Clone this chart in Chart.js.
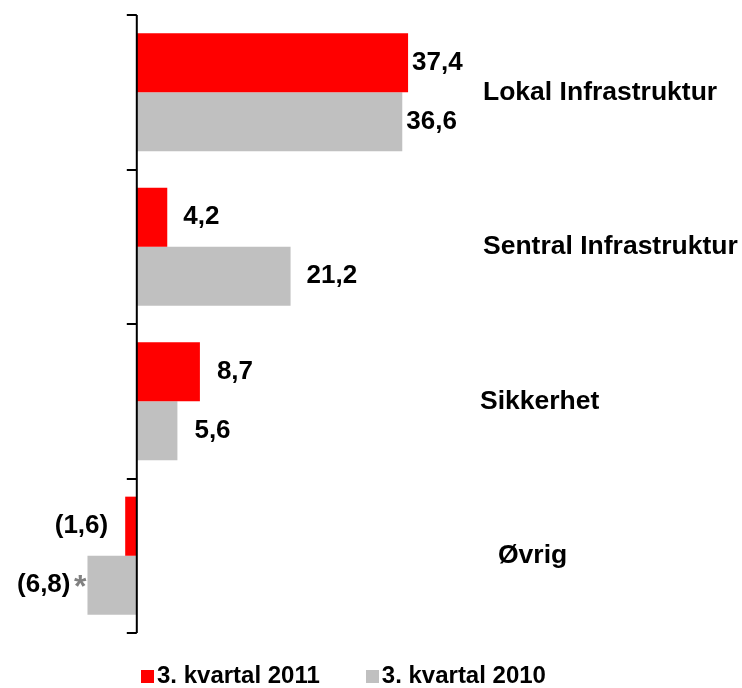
<!DOCTYPE html>
<html>
<head>
<meta charset="utf-8">
<script src="https://cdn.jsdelivr.net/npm/chart.js@4"></script>
<style>
  html, body { margin: 0; padding: 0; background: #fff; }
  #wrap { position: relative; width: 742px; height: 688px; }
  #legend { position: absolute; top: 661px; left: 141px; font: bold 24px "Liberation Sans", Arial, sans-serif; color: #000; white-space: nowrap; }
  #legend span.item { display: inline-block; margin-right: 46px; }
  #legend i { display: inline-block; width: 13px; height: 13px; margin-right: 3px; }
</style>
</head>
<body>
<div id="wrap">
  <canvas id="chart" width="742" height="688"></canvas>
  <div id="legend"></div>
</div>
<script>
const categories = ['Lokal Infrastruktur', 'Sentral Infrastruktur', 'Sikkerhet', 'Øvrig'];
const seriesNames = ['3. kvartal 2011', '3. kvartal 2010'];
const values2011 = [37.4, 4.2, 8.7, -1.6];
const values2010 = [36.6, 21.2, 5.6, -6.8];
const colors = ['#ff0000', '#c0c0c0'];

// stil: hvor kategorinavn og verdietiketter står
const catLabelX = [483, 483, 480, 498];
const valuePad = [4, 16, 17, 17];
const CAT_FONT = 'bold 26.5px "Liberation Sans", Arial, sans-serif';
const VAL_FONT = 'bold 26px "Liberation Sans", Arial, sans-serif';

const fmt = v => {
    const s = Math.abs(v).toFixed(1).replace('.', ',');
    return v < 0 ? '(' + s + ')' : s;
};

// akse, kategorinavn og verdier tegnes her
const decor = {
    id: 'decor',
    afterDatasetsDraw(chart) {
        const ctx = chart.ctx;
        const xs = chart.scales.x, ys = chart.scales.y;
        const x0 = xs.getPixelForValue(0);
        const step = ys.getPixelForValue(1) - ys.getPixelForValue(0);
        const top = ys.getPixelForValue(0) - step / 2;
        const bottom = ys.getPixelForValue(categories.length - 1) + step / 2;
        ctx.save();
        ctx.strokeStyle = '#000';
        ctx.lineWidth = 2;
        ctx.beginPath();
        ctx.moveTo(x0, top);
        ctx.lineTo(x0, bottom);
        for (let i = 0; i <= categories.length; i++) {
            const y = Math.round(top + i * step);
            ctx.moveTo(x0 - 10, y);
            ctx.lineTo(x0, y);
        }
        ctx.stroke();

        ctx.fillStyle = '#000';
        ctx.textBaseline = 'middle';
        ctx.font = CAT_FONT;
        categories.forEach((c, i) => {
            ctx.textAlign = 'left';
            ctx.fillText(c, catLabelX[i], ys.getPixelForValue(i));
        });

        ctx.font = VAL_FONT;
        chart.data.datasets.forEach((ds, di) => {
            const meta = chart.getDatasetMeta(di);
            meta.data.forEach((el, i) => {
                const v = ds.data[i];
                ctx.fillStyle = '#000';
                if (v >= 0) {
                    ctx.textAlign = 'left';
                    ctx.fillText(fmt(v), el.x + valuePad[i], el.y);
                } else if (di === 1) {
                    ctx.textAlign = 'right';
                    ctx.fillStyle = '#808080';
                    ctx.font = 'bold 32px "Liberation Sans", Arial, sans-serif';
                    ctx.fillText('*', el.x - 1, el.y + 3);
                    ctx.font = VAL_FONT;
                    ctx.fillStyle = '#000';
                    ctx.fillText(fmt(v), el.x - 17, el.y);
                } else {
                    ctx.textAlign = 'right';
                    ctx.fillText(fmt(v), el.x - valuePad[i], el.y);
                }
            });
        });
        ctx.restore();
    }
};

document.addEventListener('DOMContentLoaded', function () {
    const el = document.getElementById('chart');
    new Chart(el, {
        type: 'bar',
        data: {
            labels: categories,
            datasets: [
                { label: seriesNames[0], data: values2011, backgroundColor: colors[0] },
                { label: seriesNames[1], data: values2010, backgroundColor: colors[1] }
            ]
        },
        options: {
            indexAxis: 'y',
            responsive: false,
            animation: false,
            layout: { padding: { top: 15, bottom: 55, left: 28, right: 170 } },
            datasets: { bar: { categoryPercentage: 0.765, barPercentage: 1.0 } },
            scales: {
                x: { display: false, min: -15, max: 60 },
                y: { display: false, offset: true }
            },
            plugins: {
                legend: { display: false },
                tooltip: { enabled: false }
            }
        },
        plugins: [decor]
    });

    const leg = document.getElementById('legend');
    seriesNames.forEach((n, i) => {
        const s = document.createElement('span');
        s.className = 'item';
        s.innerHTML = '<i style="background:' + colors[i] + '"></i>' + n;
        leg.appendChild(s);
    });
});
</script>
</body>
</html>
